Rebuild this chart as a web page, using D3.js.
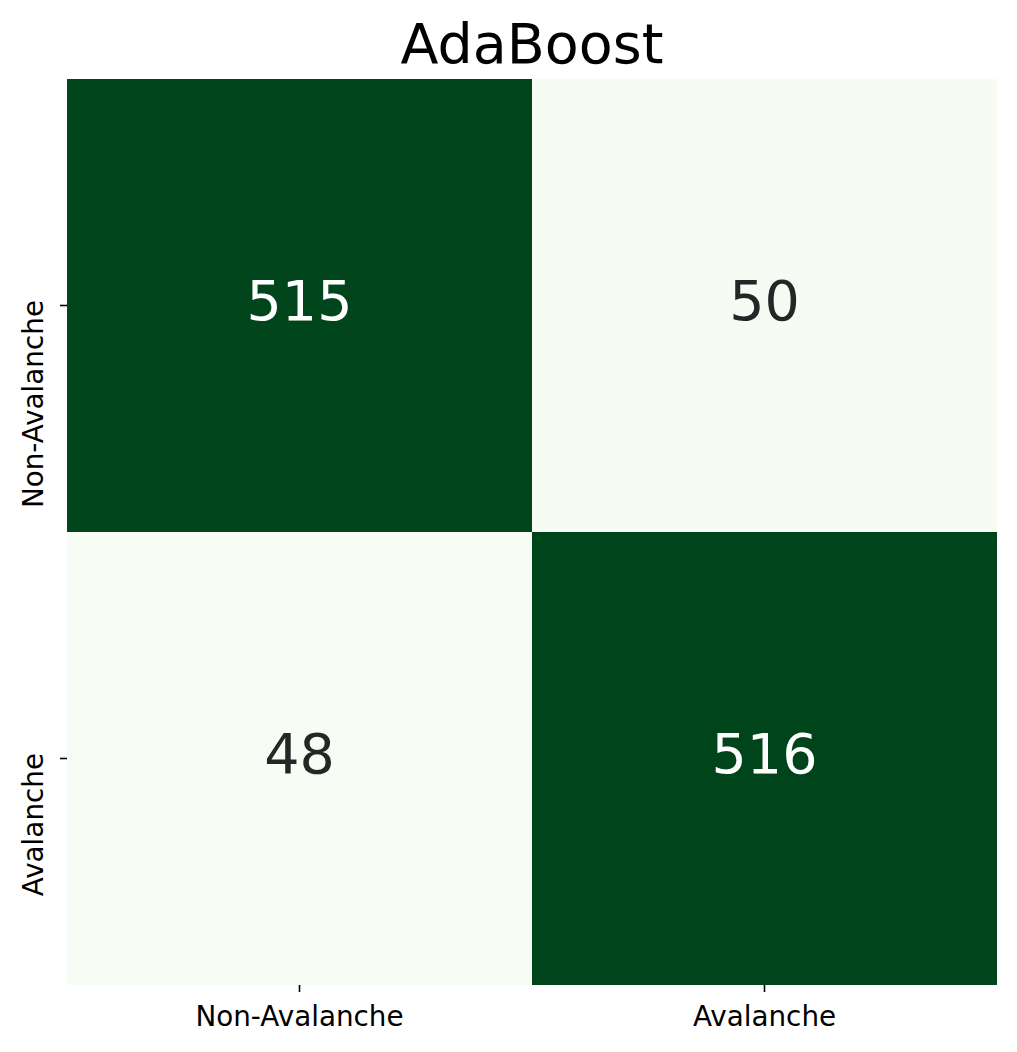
<!DOCTYPE html>
<html>
<head>
<meta charset="utf-8">
<script src="https://cdn.jsdelivr.net/npm/d3@7"></script>
<style>
  html, body { margin: 0; padding: 0; background: #ffffff; }
  svg { display: block; font-family: "DejaVu Sans", sans-serif; }
</style>
</head>
<body>
<svg id="chart" width="1017" height="1052"></svg>
<script>
const title = "AdaBoost";
const rowLabels = ["Non-Avalanche", "Avalanche"];
const colLabels = ["Non-Avalanche", "Avalanche"];
const row0Values = [515, 50];
const row1Values = [48, 516];

const matrix = [row0Values, row1Values];
const cells = [];
matrix.forEach((row, i) => row.forEach((v, j) => cells.push({ r: rowLabels[i], c: colLabels[j], v })));

const svg = d3.select("#chart");
const margin = { left: 67, top: 79 };

const x = d3.scaleBand().domain(colLabels).range([margin.left, 997]);
const y = d3.scaleBand().domain(rowLabels).range([margin.top, 985]);

const allVals = cells.map(d => d.v);
const vmin = d3.min(allVals), vmax = d3.max(allVals);
const greens = d3.schemeGreens[9];
const color = d3.scaleLinear()
  .domain(d3.range(9).map(k => vmin + (vmax - vmin) * k / 8))
  .range(greens)
  .interpolate(d3.interpolateRgb);

svg.append("g").selectAll("rect").data(cells).join("rect")
  .attr("x", d => x(d.c))
  .attr("y", d => y(d.r))
  .attr("width", x.bandwidth())
  .attr("height", y.bandwidth())
  .attr("fill", d => color(d.v))
  .attr("shape-rendering", "crispEdges");

// annotations
svg.append("g").selectAll("text").data(cells).join("text")
  .attr("x", d => x(d.c) + x.bandwidth() / 2)
  .attr("y", d => y(d.r) + y.bandwidth() / 2 + 14.5)
  .attr("text-anchor", "middle")
  .attr("font-size", "55.5px")
  .attr("fill", d => ((d.v - vmin) / (vmax - vmin) > 0.5 ? "#ffffff" : "#262626"))
  .text(d => d.v);

// x axis
const xAxis = svg.append("g")
  .attr("transform", `translate(0,985)`)
  .call(d3.axisBottom(x).tickSize(7).tickPadding(9.7));
xAxis.select(".domain").remove();
xAxis.selectAll("line").attr("stroke", "#000").attr("stroke-width", 1.6);
xAxis.selectAll("text").attr("font-size", "27.8px").attr("fill", "#000")
  .attr("font-family", "DejaVu Sans, sans-serif").attr("dy", "0.87em");

// y axis
const yAxis = svg.append("g")
  .attr("transform", `translate(67,0)`)
  .call(d3.axisLeft(y).tickSize(7).tickPadding(9.7));
yAxis.select(".domain").remove();
yAxis.selectAll("line").attr("stroke", "#000").attr("stroke-width", 1.6);
yAxis.selectAll("text")
  .attr("font-size", "27.8px").attr("fill", "#000")
  .attr("font-family", "DejaVu Sans, sans-serif")
  .attr("x", null).attr("dy", null)
  .attr("text-anchor", "end")
  .attr("transform", "translate(-24.5,-5.5) rotate(-90)");

// title
svg.append("text")
  .attr("x", (margin.left + 997) / 2)
  .attr("y", 63)
  .attr("text-anchor", "middle")
  .attr("font-size", "55.5px")
  .attr("fill", "#000")
  .text(title);
</script>
</body>
</html>
